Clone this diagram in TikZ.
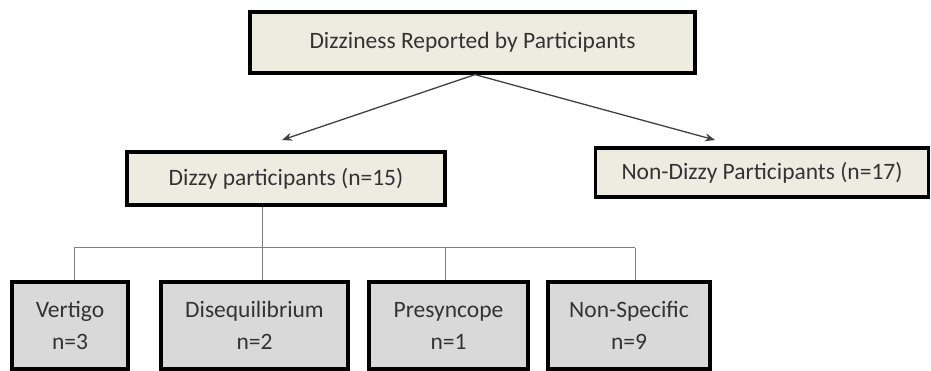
\documentclass[tikz,border=0pt]{standalone}
\usepackage{fontspec}
\setmainfont{Carlito}
\usetikzlibrary{arrows.meta,calc}
\definecolor{paper}{HTML}{EEECE1}
\definecolor{boxgray}{HTML}{D9D9D9}
\definecolor{inkgray}{HTML}{333333}
\definecolor{linegray}{HTML}{7F7F7F}
\begin{document}
\begin{tikzpicture}[x=1pt,y=-1pt,
  headbox/.style={draw=black,line width=3.2pt,fill=paper,text=inkgray,
    inner sep=0pt,font=\fontsize{23.5}{26}\selectfont},
  catbox/.style={draw=black,line width=3.2pt,fill=boxgray,text=inkgray,
    inner sep=0pt,align=center,minimum height=87pt,
    font=\fontsize{23.5}{32}\selectfont},
  arrowline/.style={draw=black!75,line width=1.3pt,
    -{Stealth[length=10pt,width=8pt]}},
  busline/.style={draw=linegray,line width=1pt}]
\useasboundingbox (0,0) rectangle (931,371);

% title and the two groups
\node[headbox,minimum width=445pt,minimum height=61pt] (top) at (472.5,42.5)
  {Dizziness Reported by Participants};
\node[headbox,minimum width=318pt,minimum height=53pt] (dizzy) at (286,178.5)
  {Dizzy participants (n=15)};
\node[headbox,minimum width=333pt,minimum height=49pt] (nondizzy) at (762,172.5)
  {Non-Dizzy Participants (n=17)};

% the four kinds of dizziness
\node[catbox,minimum width=116pt] (vert) at (70,325.5) {Vertigo\\n=3};
\node[catbox,minimum width=187pt] (diseq) at (254.5,325.5) {Disequilibrium\\n=2};
\node[catbox,minimum width=159pt] (presync) at (448.5,325.5) {Presyncope\\n=1};
\node[catbox,minimum width=162pt] (nonspec) at (629,325.5) {Non-Specific\\n=9};

% arrows from the title
\coordinate (root) at ($(top.south)+(2.5,0)$);
\coordinate (leftTip) at (282,140);
\coordinate (rightTip) at (715,140);
\draw[arrowline] (root) -- (leftTip);
\draw[arrowline] (root) -- (rightTip);

% bus connecting the dizzy group to its four kinds
\coordinate (bus) at (0,248);
\coordinate (trunk) at ($(dizzy.south)+(-24,0)$);
\coordinate (d1) at ($(vert.north)+(4,0)$);
\coordinate (d2) at ($(diseq.north)+(7.5,0)$);
\coordinate (d3) at ($(presync.north)+(-3.5,0)$);
\coordinate (d4) at ($(nonspec.north)+(6,0)$);
\draw[busline] (trunk) -- (trunk |- bus);
\draw[busline] (d1 |- bus) -- (d4 |- bus);
\foreach \d in {d1,d2,d3,d4}
  \draw[busline] (\d |- bus) -- (\d);
\end{tikzpicture}
\end{document}
